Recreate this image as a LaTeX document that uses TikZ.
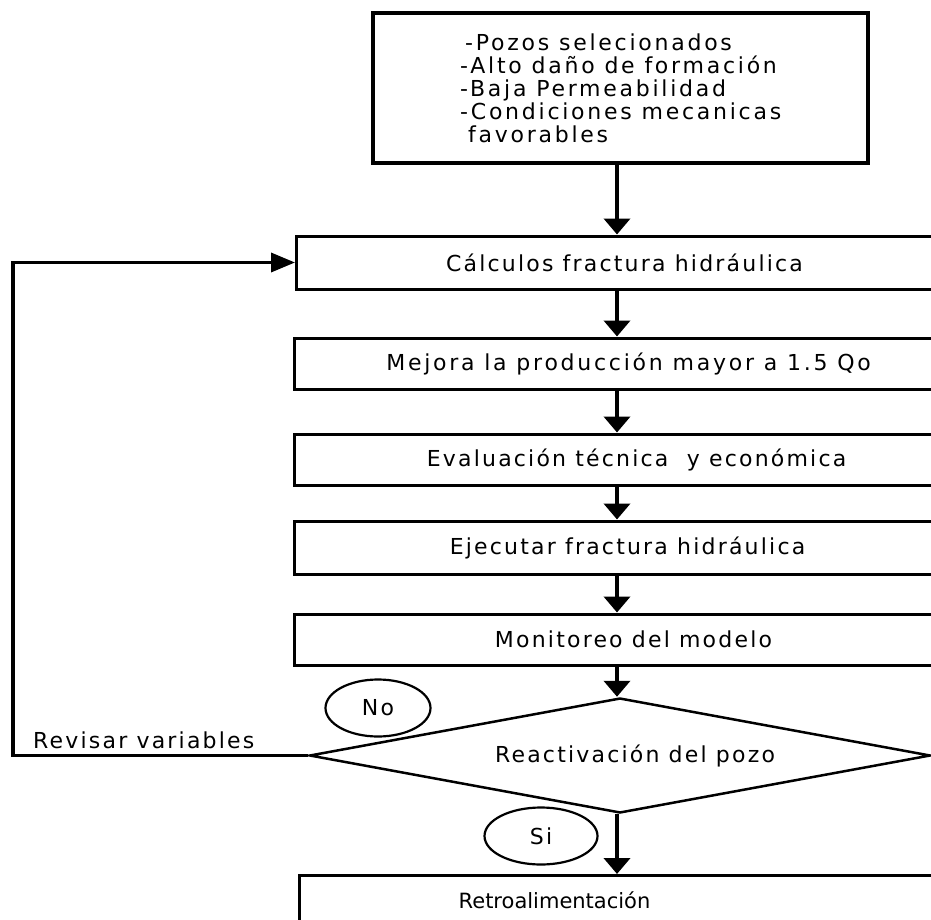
\documentclass[tikz,border=0pt]{standalone}
\usepackage{fontspec}
\setmainfont{DejaVu Sans}[LetterSpace=10]
\usetikzlibrary{arrows.meta,shapes.geometric}

\begin{document}
\begin{tikzpicture}[x=1pt,y=-1pt,
  txt/.style={font=\fontsize{22}{23}\selectfont, text=black},
  wide/.style={font=\fontsize{22}{23}\selectfont\addfontfeature{LetterSpace=12.5}},
  stepbox/.style={draw, rectangle, line width=3pt, anchor=west, inner sep=0pt, txt},
  critbox/.style={draw, rectangle, line width=4pt, inner sep=0pt,
                  minimum width=495pt, minimum height=150pt},
  decision/.style={draw, diamond, aspect=5.4, line width=2.5pt, inner sep=0pt,
                   minimum width=621pt, minimum height=115pt, txt},
  answer/.style={draw, ellipse, line width=2.2pt, inner sep=0pt, minimum height=57pt, txt},
  flow/.style={line width=4pt, -{Triangle[length=16pt,width=26pt]}},
  back/.style={line width=3.5pt, -{Triangle[length=24pt,width=19pt]}}]

\useasboundingbox (0,0) rectangle (931,920);
\clip (0,0) rectangle (931,920);

% criteria box
\node[critbox] (crit) at (620.5,88) {};
\node[txt, wide, anchor=west, align=left, inner sep=0pt] (crittxt) at (460,88)
  {\hspace*{5pt}-Pozos selecionados\\
   -Alto daño de formación\\
   -Baja Permeabilidad\\
   -Condiciones mecanicas\\
   \hphantom{-}favorables};

% process steps (they run past the right margin)
\node[stepbox, minimum width=656pt, minimum height=53pt] (calc)   at (295,262.5) {Cálculos fractura hidráulica};
\node[stepbox, wide, minimum width=668pt, minimum height=51pt] (mejora) at (293,363.5) {Mejora la producción mayor a 1.5 Qo};
\node[stepbox, minimum width=684pt, minimum height=51pt] (evalua) at (293,459.5) {Evaluación técnica~ y económica};
\node[stepbox, minimum width=666pt, minimum height=53pt] (ejec)   at (293,547.5) {Ejecutar fractura hidráulica};
\node[stepbox, minimum width=678pt, minimum height=51pt] (monit)  at (293,639.5) {Monitoreo del modelo};

% decision
\node[decision] (react) at (620,755.5) {\hspace*{30pt}Reactivación del pozo};

% final step
\node[stepbox, anchor=north west, minimum width=662pt, minimum height=50pt,
      font=\fontsize{21}{23}\selectfont\addfontfeature{LetterSpace=0}] (retro) at (298,874)
  {\hspace*{-152pt}Retroalimentación};

% answers
\node[answer, minimum width=105pt] (no) at (378,708) {No};
\node[answer, minimum width=113pt] (si) at (541,836) {Si};
\node[txt, anchor=west, inner sep=0pt] (revisar) at (33,740) {Revisar variables};

% main flow
\coordinate (axis) at (617,0);
\draw[flow] (crit.south -| axis)   -- (calc.north -| axis);
\draw[flow] (calc.south -| axis)   -- (mejora.north -| axis);
\draw[flow] (mejora.south -| axis) -- (evalua.north -| axis);
\draw[flow] (evalua.south -| axis) -- (ejec.north -| axis);
\draw[flow] (ejec.south -| axis)   -- (monit.north -| axis);
\draw[flow] (monit.south -| axis)  -- (react.north -| axis);
\draw[flow] (react.south -| axis)  -- (retro.north -| axis);

% loop back on "No"
\coordinate (loop) at (13,755.5);
\draw[back] (react.west) -- (loop) |- (calc.west);
\end{tikzpicture}
\end{document}
